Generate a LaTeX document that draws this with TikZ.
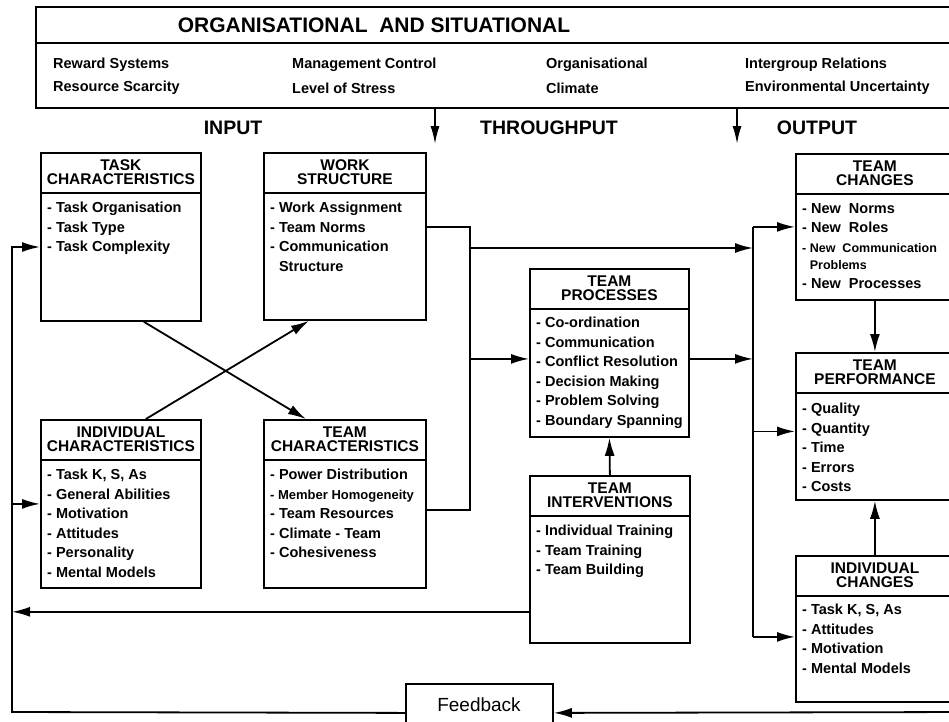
\documentclass[tikz,border=0pt]{standalone}
\usepackage{fontspec}
\setmainfont{Liberation Sans}
\usetikzlibrary{arrows.meta,calc}

\tikzset{
	box/.style={draw, line width=1.8pt, anchor=north west, inner sep=0pt},
	head/.style={font=\fontsize{15.5}{14}\selectfont\bfseries, align=center, inner sep=0pt},
	items/.style={font=\fontsize{14.5}{19.5}\selectfont\bfseries, align=left, anchor=north west, inner sep=0pt},
	factor/.style={font=\fontsize{14.5}{17}\selectfont\bfseries, anchor=west, inner sep=0pt},
	phase/.style={font=\fontsize{19.5}{22}\selectfont\bfseries, inner sep=0pt},
	link/.style={line width=1.8pt},
	flow/.style={line width=1.8pt, -{Latex[length=18pt,width=10pt]}}
}

\begin{document}
\begin{tikzpicture}[x=1pt, y=-1pt]
	\clip (0,0) rectangle (949,721);
	% organisational and situational factors
	\node[box, minimum width=930pt, minimum height=101pt] (org) at (35,6) {};
	\draw[link] ($(org.north west)+(0,37)$) -- ($(org.north east)+(0,37)$);
	\node[font=\fontsize{21}{24}\selectfont\bfseries] (orgtitle) at (374,25) {ORGANISATIONAL\ \ AND SITUATIONAL};
	\node[factor] (reward) at (53,65) {Reward Systems};
	\node[factor] (scarcity) at (53,88) {Resource Scarcity};
	\node[factor] (control) at (292,65) {Management Control};
	\node[factor] (stress) at (292,88) {Level of Stress};
	\node[factor] (orgn) at (546,65) {Organisational};
	\node[factor] (climate) at (546,88) {Climate};
	\node[factor] (intergroup) at (745,65) {Intergroup Relations};
	\node[factor] (uncert) at (745,88) {Environmental Uncertainty};
	% phases
	\node[phase] (input) at (233,128) {INPUT};
	\node[phase] (through) at (549,128) {THROUGHPUT};
	\node[phase] (output) at (817,128) {OUTPUT};
	\coordinate (tdown) at (435,107);
	\coordinate (odown) at (737,107);
	\draw[line width=1.8pt, -{Latex[length=18pt,width=9pt]}] (tdown) -- ++(0,37);
	\draw[line width=1.8pt, -{Latex[length=18pt,width=9pt]}] (odown) -- ++(0,37);

	% input boxes
	\node[box, minimum width=160pt, minimum height=168pt] (task) at (40,152) {};
	\node[box, minimum width=162pt, minimum height=167pt] (work) at (263,152) {};
	\node[box, minimum width=160pt, minimum height=168pt] (indiv) at (40,419) {};
	\node[box, minimum width=162pt, minimum height=168pt] (teamchar) at (263,419) {};
	% throughput boxes
	\node[box, minimum width=159pt, minimum height=168pt] (proc) at (529,268) {};
	\node[box, minimum width=160pt, minimum height=167pt] (interv) at (529,475) {};
	% output boxes
	\node[box, minimum width=158pt, minimum height=146pt] (tchange) at (795,153) {};
	\node[box, minimum width=158pt, minimum height=147pt] (perf) at (795,352) {};
	\node[box, minimum width=158pt, minimum height=146pt] (ichange) at (795,555) {};
	\foreach \b in {task,work,indiv,teamchar,proc,interv,tchange,perf,ichange}
		\draw[link] ($(\b.north west)+(0,41)$) -- ($(\b.north east)+(0,41)$);

	% headers
	\node[head] (taskhead) at ($(task.north)+(0,20)$) {TASK\\CHARACTERISTICS};
	\node[head] (workhead) at ($(work.north)+(0,20)$) {WORK\\STRUCTURE};
	\node[head] (indivhead) at ($(indiv.north)+(0,20)$) {INDIVIDUAL\\CHARACTERISTICS};
	\node[head] (teamcharhead) at ($(teamchar.north)+(0,20)$) {TEAM\\CHARACTERISTICS};
	\node[head] (prochead) at ($(proc.north)+(0,20)$) {TEAM\\PROCESSES};
	\node[head] (intervhead) at ($(interv.north)+(0,20)$) {TEAM\\INTERVENTIONS};
	\node[head] (tchangehead) at ($(tchange.north)+(0,20)$) {TEAM\\CHANGES};
	\node[head] (perfhead) at ($(perf.north)+(0,20)$) {TEAM\\PERFORMANCE};
	\node[head] (ichangehead) at ($(ichange.north)+(0,20)$) {INDIVIDUAL\\CHANGES};

	% lists
	\node[items] (tasklist) at ($(task.north west)+(7,50)$) {- Task Organisation\\- Task Type\\- Task Complexity};
	\node[items] (worklist) at ($(work.north west)+(7,50)$) {- Work Assignment\\- Team Norms\\- Communication\\\hphantom{- }Structure};
	\node[items] (indivlist) at ($(indiv.north west)+(7,50)$) {- Task K, S, As\\- General Abilities\\- Motivation\\- Attitudes\\- Personality\\- Mental Models};
	\node[items] (teamcharlist) at ($(teamchar.north west)+(7,50)$) {- Power Distribution\\{\fontsize{13}{19.5}\selectfont - Member Homogeneity}\\- Team Resources\\- Climate - Team\\- Cohesiveness};
	\node[items] (proclist) at ($(proc.north west)+(7,49)$) {- Co-ordination\\- Communication\\- Conflict Resolution\\- Decision Making\\- Problem Solving\\- Boundary Spanning};
	\node[items] (intervlist) at ($(interv.north west)+(7,50)$) {- Individual Training\\- Team Training\\- Team Building};
	\node[items] (tchangelist) at ($(tchange.north west)+(7,50)$) {- New\ \ Norms\\- New\ \ Roles\\{\fontsize{12.5}{19.5}\selectfont - New\ \ Communication}\\[-2pt]{\fontsize{12.5}{19.5}\selectfont\hphantom{- }Problems}\\[-1pt]- New\ \ Processes};
	\node[items] (perflist) at ($(perf.north west)+(7,51)$) {- Quality\\- Quantity\\- Time\\- Errors\\- Costs};
	\node[items] (ichangelist) at ($(ichange.north west)+(7,49)$) {- Task K, S, As\\- Attitudes\\- Motivation\\- Mental Models};

	% feedback
	\node[box, minimum width=147pt, minimum height=58pt] (fb) at (405,683) {};
	\node[font=\fontsize{19}{22}\selectfont] (fbtext) at (479,705) {Feedback};
	\coordinate (fbl) at (12,712);
	\coordinate (fbr) at (965,712);
	\draw[flow] (fbr) -- (fb.east);
	\draw[flow] (fb.west) -- (fbl) |- ($(task.north west)+(0,95)$);
	\draw[flow] (fbl |- indiv.west) -- (indiv.west);
	\draw[flow] ($(interv.south west)+(0,-32)$) coordinate (ivout) -- (ivout -| fbl);

	% input links
	\draw[flow] ($(task.south)+(23,0)$) -- ($(teamchar.north)+(-39,0)$);
	\draw[flow] ($(indiv.north)+(25,0)$) -- ($(work.south)+(-36,0)$);
	\coordinate (inbus) at (470,248);
	\coordinate (outbus) at (753,248);
	\draw[link] ($(work.north east)+(0,75)$) -| (inbus) |- ($(teamchar.east)+(0,6)$);
	\draw[flow] (inbus) -- (outbus);
	\coordinate (procin) at ($(proc.west)+(0,6)$);
	\draw[flow] (inbus |- procin) -- (procin);
	\draw[flow] ($(proc.east)+(0,6)$) -- (outbus |- procin);
	\draw[flow] (interv.north) -- (proc.south);

	% output links
	\coordinate (perfin) at ($(perf.west)+(0,5)$);
	\coordinate (ichin) at ($(ichange.west)+(0,8)$);
	\draw[link] (outbus |- tchange.west) -- (outbus |- ichin);
	\draw[flow] (outbus |- tchange.west) -- (tchange.west);
	\draw[flow] (outbus |- perfin) -- (perfin);
	\draw[flow] (outbus |- ichin) -- (ichin);
	\draw[flow] (tchange.south) -- (perf.north);
	\draw[flow] (ichange.north) -- (perf.south);
\end{tikzpicture}
\end{document}
